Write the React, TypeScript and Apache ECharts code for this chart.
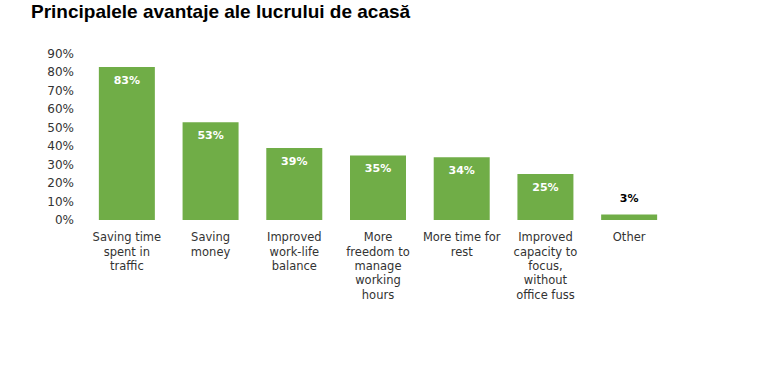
import React, { useEffect, useRef } from "react";
import * as echarts from "echarts";

const categories = [
  "Saving time\nspent in\ntraffic",
  "Saving\nmoney",
  "Improved\nwork-life\nbalance",
  "More\nfreedom to\nmanage\nworking\nhours",
  "More time for\nrest",
  "Improved\ncapacity to\nfocus,\nwithout\noffice fuss",
  "Other",
];
const values = [83, 53, 39, 35, 34, 25, 3];
const titleText = "Principalele avantaje ale lucrului de acasă";

const labelFont = "'DejaVu Sans', sans-serif";

export default function App() {
  const ref = useRef<HTMLDivElement>(null);
  useEffect(() => {
    if (!ref.current) return;
    const chart = echarts.init(ref.current, null, { renderer: "svg" });
    chart.setOption({
      animation: false,
      backgroundColor: "#ffffff",
      title: {
        text: titleText,
        left: 31,
        top: 2,
        padding: 0,
        textStyle: {
          fontFamily: "'Liberation Sans', Arial, sans-serif",
          fontWeight: "bold",
          fontSize: 19,
          color: "#000000",
        },
      },
      grid: { left: 85, right: 87, top: 54, bottom: 157, containLabel: false },
      xAxis: {
        type: "category",
        data: categories,
        axisLine: { show: false },
        axisTick: { show: false },
        axisLabel: {
          interval: 0,
          margin: 10,
          color: "#333333",
          fontFamily: labelFont,
          fontSize: 11.5,
          lineHeight: 14.4,
        },
      },
      yAxis: {
        type: "value",
        min: 0,
        max: 90,
        interval: 10,
        splitLine: { show: false },
        axisLine: { show: false },
        axisTick: { show: false },
        axisLabel: {
          formatter: "{value}%",
          margin: 11,
          color: "#333333",
          fontFamily: labelFont,
          fontSize: 12,
        },
      },
      series: [
        {
          type: "bar",
          barWidth: 56,
          itemStyle: { color: "#70AD47" },
          data: values.map((v) => ({
            value: v,
            label:
              v < 10
                ? {
                    show: true,
                    position: "top",
                    distance: 10,
                    color: "#000000",
                    fontWeight: "bold",
                    fontSize: 11,
                    fontFamily: labelFont,
                    formatter: "{c}%",
                  }
                : {
                    show: true,
                    position: "insideTop",
                    distance: 8,
                    color: "#ffffff",
                    fontWeight: "bold",
                    fontSize: 11,
                    fontFamily: labelFont,
                    formatter: "{c}%",
                  },
          })),
        },
      ],
    });
    return () => chart.dispose();
  }, []);
  return (
    <div
      ref={ref}
      style={{ position: "absolute", left: 0, top: 0, width: 758, height: 377 }}
    />
  );
}
